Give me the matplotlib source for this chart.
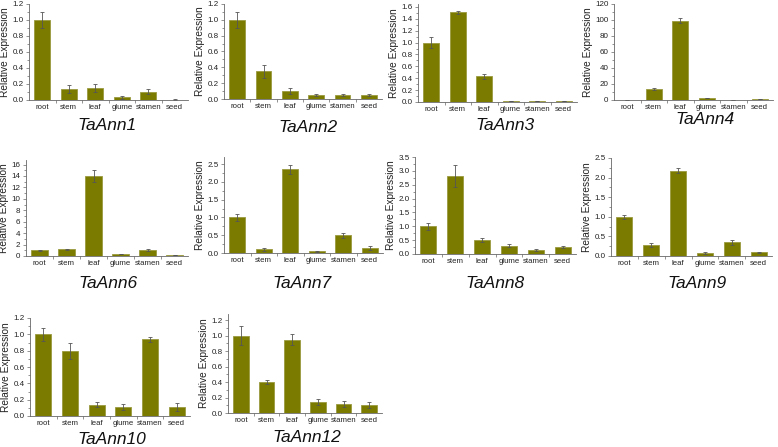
import matplotlib
matplotlib.use("Agg")
import matplotlib.pyplot as plt
from matplotlib.ticker import MultipleLocator, AutoMinorLocator, FixedLocator, NullFormatter

plt.rcParams["font.family"] = ["Liberation Sans", "DejaVu Sans"]

tissues = ["root", "stem", "leaf", "glume", "stamen", "seed"]
genes = ["TaAnn1", "TaAnn2", "TaAnn3", "TaAnn4", "TaAnn6",
         "TaAnn7", "TaAnn8", "TaAnn9", "TaAnn10", "TaAnn12"]

ann1 = [1.0, 0.14, 0.15, 0.035, 0.105, 0.005]
ann1_err = [0.1, 0.05, 0.05, 0.02, 0.03, 0.003]
ann2 = [1.0, 0.35, 0.1, 0.05, 0.05, 0.05]
ann2_err = [0.1, 0.08, 0.04, 0.01, 0.01, 0.01]
ann3 = [1.0, 1.51, 0.43, 0.02, 0.02, 0.02]
ann3_err = [0.09, 0.03, 0.04, 0.005, 0.005, 0.005]
ann4 = [0.3, 14.0, 99.0, 2.5, 0.3, 1.5]
ann4_err = [0.1, 1.5, 3.0, 0.5, 0.1, 0.3]
ann6 = [1.0, 1.15, 14.0, 0.35, 1.1, 0.15]
ann6_err = [0.1, 0.15, 1.0, 0.05, 0.2, 0.03]
ann7 = [1.0, 0.1, 2.35, 0.05, 0.5, 0.15]
ann7_err = [0.1, 0.04, 0.12, 0.01, 0.07, 0.06]
ann8 = [1.0, 2.82, 0.5, 0.3, 0.15, 0.25]
ann8_err = [0.12, 0.4, 0.07, 0.05, 0.03, 0.03]
ann9 = [1.0, 0.28, 2.18, 0.07, 0.35, 0.09]
ann9_err = [0.05, 0.04, 0.07, 0.02, 0.06, 0.02]
ann10 = [1.0, 0.8, 0.14, 0.11, 0.94, 0.11]
ann10_err = [0.08, 0.1, 0.03, 0.04, 0.03, 0.05]
ann12 = [1.0, 0.4, 0.95, 0.14, 0.12, 0.1]
ann12_err = [0.12, 0.03, 0.07, 0.04, 0.04, 0.04]

values = [ann1, ann2, ann3, ann4, ann6, ann7, ann8, ann9, ann10, ann12]
errors = [ann1_err, ann2_err, ann3_err, ann4_err, ann6_err,
          ann7_err, ann8_err, ann9_err, ann10_err, ann12_err]
ymax = [1.2, 1.2, 1.65, 120, 16.8, 2.7, 3.5, 2.5, 1.2, 1.28]
ystep = [0.2, 0.2, 0.2, 20, 2, 0.5, 0.5, 0.5, 0.2, 0.2]

# axes boxes in pixels: left, top, right, bottom ; title centre x, y
boxes = [(29, 4, 188, 100), (224, 4, 382, 99), (418, 4, 577, 102), (614, 4, 773, 100),
         (26, 160, 188, 256), (224, 157, 383, 253), (415, 157, 576, 254), (611, 158, 772, 256),
         (30, 318, 190, 416), (228, 314, 382, 413)]
titles = [(107, 126), (308, 127), (505, 126), (705, 120),
          (108, 284), (302, 284), (495, 284), (697, 284),
          (112, 440), (307, 438)]

W, H = 778, 447
fig = plt.figure(figsize=(W / 100, H / 100), dpi=100)

bar_color = "#7b7b00"
for i, gene in enumerate(genes):
    l, t, r, b = boxes[i]
    ax = fig.add_axes([l / W, 1 - b / H, (r - l) / W, (b - t) / H])
    x = range(len(tissues))
    ax.bar(x, values[i], width=0.6, color=bar_color, edgecolor="#9a9a40", linewidth=0.6,
           yerr=errors[i], error_kw=dict(ecolor="#555555", elinewidth=0.6, capsize=1.2, capthick=0.6))
    ax.set_xlim(-0.5, 5.5)
    ax.set_ylim(0, ymax[i])
    ax.yaxis.set_major_locator(MultipleLocator(ystep[i]))
    ax.yaxis.set_minor_locator(AutoMinorLocator(2))
    ax.set_xticks(list(x))
    ax.set_xticklabels(tissues)
    ax.xaxis.set_minor_locator(FixedLocator([k + 0.5 for k in range(5)]))
    ax.xaxis.set_minor_formatter(NullFormatter())
    ax.tick_params(axis="x", which="major", length=0, labelsize=5.6, pad=3, colors="#222222")
    ax.tick_params(axis="x", which="minor", length=2, width=0.5, color="#666666")
    ax.tick_params(axis="y", which="major", length=2.5, width=0.5, labelsize=5.8, pad=1.5,
                   color="#666666", labelcolor="#222222")
    ax.tick_params(axis="y", which="minor", length=1.5, width=0.5, color="#666666")
    fmt = "{:.0f}" if ystep[i] >= 1 else "{:.1f}"
    ax.yaxis.set_major_formatter(plt.FuncFormatter(lambda v, p, f=fmt: f.format(v)))
    for s in ["top", "right"]:
        ax.spines[s].set_visible(False)
    for s in ["left", "bottom"]:
        ax.spines[s].set_linewidth(0.6)
        ax.spines[s].set_color("#666666")
    ax.set_ylabel("Relative Expression", fontsize=7.3, labelpad=1.5, color="#222222")
    tx, ty = titles[i]
    fig.text(tx / W, 1 - ty / H, gene, ha="center", va="center", fontsize=12.5,
             style="italic", color="#111111")

fig.savefig("out.png", dpi=100)
